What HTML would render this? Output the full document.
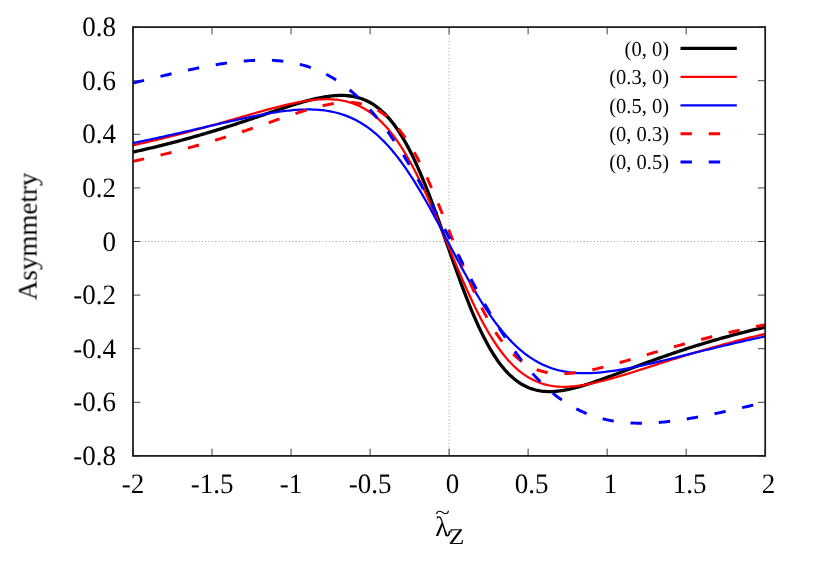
<!DOCTYPE html>
<html><head><meta charset="utf-8"><title>Asymmetry plot</title>
<style>html,body{margin:0;padding:0;background:#fff;}body{width:814px;height:570px;overflow:hidden;font-family:"Liberation Serif",serif;}svg{display:block;}text{text-rendering:geometricPrecision;font-family:"Liberation Serif",serif;fill:#000;}</style></head><body>
<svg width="814" height="570" viewBox="0 0 814 570">
<rect x="0" y="0" width="814" height="570" fill="#ffffff"/>
<g stroke="#000" stroke-width="0.7" stroke-dasharray="0.9 2.45" stroke-dashoffset="1.47" fill="none" opacity="0.62">
<path d="M133.00,241.50 H765.20"/>
<path d="M449.10,455.90 V27.10"/>
</g>
<g stroke="#000" stroke-width="0.75" fill="none">
<path d="M133.00,455.90 V448.60 M133.00,27.10 V34.40"/>
<path d="M212.03,455.90 V448.60 M212.03,27.10 V34.40"/>
<path d="M291.05,455.90 V448.60 M291.05,27.10 V34.40"/>
<path d="M370.08,455.90 V448.60 M370.08,27.10 V34.40"/>
<path d="M449.10,455.90 V448.60 M449.10,27.10 V34.40"/>
<path d="M528.12,455.90 V448.60 M528.12,27.10 V34.40"/>
<path d="M607.15,455.90 V448.60 M607.15,27.10 V34.40"/>
<path d="M686.18,455.90 V448.60 M686.18,27.10 V34.40"/>
<path d="M765.20,455.90 V448.60 M765.20,27.10 V34.40"/>
<path d="M133.00,455.90 H140.30 M765.20,455.90 H757.90"/>
<path d="M133.00,402.30 H140.30 M765.20,402.30 H757.90"/>
<path d="M133.00,348.70 H140.30 M765.20,348.70 H757.90"/>
<path d="M133.00,295.10 H140.30 M765.20,295.10 H757.90"/>
<path d="M133.00,241.50 H140.30 M765.20,241.50 H757.90"/>
<path d="M133.00,187.90 H140.30 M765.20,187.90 H757.90"/>
<path d="M133.00,134.30 H140.30 M765.20,134.30 H757.90"/>
<path d="M133.00,80.70 H140.30 M765.20,80.70 H757.90"/>
<path d="M133.00,27.10 H140.30 M765.20,27.10 H757.90"/>
</g>
<g fill="none" stroke-linejoin="round">
<path d="M133.00,152.05 L134.98,151.62 L136.95,151.18 L138.93,150.74 L140.90,150.29 L142.88,149.84 L144.85,149.38 L146.83,148.92 L148.81,148.46 L150.78,148.00 L152.76,147.53 L154.73,147.05 L156.71,146.57 L158.68,146.09 L160.66,145.60 L162.63,145.11 L164.61,144.62 L166.59,144.12 L168.56,143.62 L170.54,143.11 L172.51,142.60 L174.49,142.09 L176.46,141.57 L178.44,141.05 L180.42,140.52 L182.39,139.99 L184.37,139.45 L186.34,138.91 L188.32,138.37 L190.29,137.82 L192.27,137.27 L194.24,136.71 L196.22,136.15 L198.20,135.58 L200.17,135.01 L202.15,134.44 L204.12,133.86 L206.10,133.28 L208.07,132.69 L210.05,132.10 L212.03,131.51 L214.00,130.91 L215.98,130.31 L217.95,129.70 L219.93,129.09 L221.90,128.47 L223.88,127.86 L225.85,127.23 L227.83,126.61 L229.81,125.98 L231.78,125.34 L233.76,124.71 L235.73,124.07 L237.71,123.43 L239.68,122.78 L241.66,122.13 L243.63,121.48 L245.61,120.83 L247.59,120.17 L249.56,119.51 L251.54,118.85 L253.51,118.18 L255.49,117.51 L257.46,116.84 L259.44,116.17 L261.42,115.50 L263.39,114.82 L265.37,114.15 L267.34,113.48 L269.32,112.81 L271.29,112.13 L273.27,111.47 L275.25,110.80 L277.22,110.13 L279.20,109.47 L281.17,108.81 L283.15,108.16 L285.12,107.51 L287.10,106.87 L289.07,106.23 L291.05,105.60 L293.03,104.98 L295.00,104.36 L296.98,103.76 L298.95,103.16 L300.93,102.58 L302.90,102.01 L304.88,101.45 L306.86,100.91 L308.83,100.38 L310.81,99.87 L312.78,99.38 L314.76,98.91 L316.73,98.46 L318.71,98.03 L320.68,97.63 L322.66,97.25 L324.64,96.91 L326.61,96.59 L328.59,96.30 L330.56,96.05 L332.54,95.84 L334.51,95.67 L336.49,95.53 L338.47,95.45 L340.44,95.40 L342.42,95.41 L344.39,95.47 L346.37,95.59 L348.34,95.76 L350.32,96.00 L352.29,96.30 L354.27,96.67 L356.25,97.11 L358.22,97.62 L360.20,98.22 L362.17,98.90 L364.15,99.67 L366.12,100.52 L368.10,101.48 L370.08,102.53 L372.05,103.68 L374.03,104.95 L376.00,106.32 L377.98,107.81 L379.95,109.42 L381.93,111.15 L383.90,113.01 L385.88,115.00 L387.86,117.13 L389.83,119.39 L391.81,121.79 L393.78,124.34 L395.76,127.04 L397.73,129.88 L399.71,132.87 L401.69,136.02 L403.66,139.32 L405.64,142.77 L407.61,146.38 L409.59,150.14 L411.56,154.05 L413.54,158.11 L415.51,162.31 L417.49,166.66 L419.47,171.14 L421.44,175.76 L423.42,180.51 L425.39,185.38 L427.37,190.36 L429.34,195.45 L431.32,200.64 L433.30,205.91 L435.27,211.27 L437.25,216.69 L439.22,222.18 L441.20,227.71 L443.17,233.28 L445.15,238.87 L447.12,244.47 L449.10,250.07 L451.08,255.68 L453.05,261.25 L455.03,266.80 L457.00,272.29 L458.98,277.73 L460.95,283.09 L462.93,288.38 L464.91,293.58 L466.88,298.67 L468.86,303.66 L470.83,308.53 L472.81,313.28 L474.78,317.90 L476.76,322.38 L478.73,326.72 L480.71,330.92 L482.69,334.96 L484.66,338.86 L486.64,342.60 L488.61,346.18 L490.59,349.61 L492.56,352.88 L494.54,356.00 L496.51,358.96 L498.49,361.76 L500.47,364.42 L502.44,366.93 L504.42,369.29 L506.39,371.51 L508.37,373.59 L510.34,375.53 L512.32,377.33 L514.30,379.01 L516.27,380.56 L518.25,381.98 L520.22,383.29 L522.20,384.49 L524.17,385.57 L526.15,386.55 L528.12,387.43 L530.10,388.21 L532.08,388.90 L534.05,389.50 L536.03,390.02 L538.00,390.45 L539.98,390.81 L541.95,391.10 L543.93,391.31 L545.91,391.47 L547.88,391.56 L549.86,391.59 L551.83,391.56 L553.81,391.48 L555.78,391.35 L557.76,391.15 L559.74,390.91 L561.71,390.63 L563.69,390.31 L565.66,389.95 L567.64,389.56 L569.61,389.14 L571.59,388.69 L573.56,388.21 L575.54,387.71 L577.52,387.18 L579.49,386.63 L581.47,386.06 L583.44,385.47 L585.42,384.86 L587.39,384.24 L589.37,383.60 L591.35,382.95 L593.32,382.29 L595.30,381.61 L597.27,380.93 L599.25,380.23 L601.22,379.53 L603.20,378.82 L605.17,378.11 L607.15,377.39 L609.13,376.66 L611.10,375.93 L613.08,375.20 L615.05,374.46 L617.03,373.72 L619.00,372.98 L620.98,372.24 L622.96,371.49 L624.93,370.75 L626.91,370.00 L628.88,369.26 L630.86,368.52 L632.83,367.78 L634.81,367.04 L636.78,366.30 L638.76,365.56 L640.74,364.83 L642.71,364.10 L644.69,363.37 L646.66,362.65 L648.64,361.92 L650.61,361.20 L652.59,360.49 L654.57,359.77 L656.54,359.06 L658.52,358.36 L660.49,357.65 L662.47,356.96 L664.44,356.26 L666.42,355.57 L668.39,354.89 L670.37,354.21 L672.35,353.53 L674.32,352.86 L676.30,352.20 L678.27,351.53 L680.25,350.88 L682.22,350.22 L684.20,349.58 L686.18,348.93 L688.15,348.30 L690.13,347.66 L692.10,347.03 L694.08,346.41 L696.05,345.79 L698.03,345.18 L700.00,344.57 L701.98,343.97 L703.96,343.37 L705.93,342.77 L707.91,342.19 L709.88,341.60 L711.86,341.02 L713.83,340.45 L715.81,339.88 L717.79,339.31 L719.76,338.75 L721.74,338.20 L723.71,337.64 L725.69,337.10 L727.66,336.56 L729.64,336.02 L731.61,335.49 L733.59,334.96 L735.57,334.43 L737.54,333.92 L739.52,333.40 L741.49,332.89 L743.47,332.39 L745.44,331.89 L747.42,331.40 L749.39,330.91 L751.37,330.43 L753.35,329.95 L755.32,329.47 L757.30,329.00 L759.27,328.53 L761.25,328.07 L763.22,327.61 L765.20,327.15" stroke="#000000" stroke-width="3.3"/>
<path d="M133.00,145.25 L134.98,144.81 L136.95,144.37 L138.93,143.93 L140.90,143.49 L142.88,143.04 L144.85,142.58 L146.83,142.13 L148.81,141.67 L150.78,141.21 L152.76,140.74 L154.73,140.28 L156.71,139.80 L158.68,139.33 L160.66,138.85 L162.63,138.37 L164.61,137.89 L166.59,137.40 L168.56,136.91 L170.54,136.42 L172.51,135.92 L174.49,135.42 L176.46,134.92 L178.44,134.41 L180.42,133.90 L182.39,133.39 L184.37,132.88 L186.34,132.36 L188.32,131.84 L190.29,131.32 L192.27,130.79 L194.24,130.26 L196.22,129.73 L198.20,129.19 L200.17,128.66 L202.15,128.12 L204.12,127.57 L206.10,127.03 L208.07,126.48 L210.05,125.93 L212.03,125.38 L214.00,124.83 L215.98,124.27 L217.95,123.72 L219.93,123.16 L221.90,122.60 L223.88,122.03 L225.85,121.47 L227.83,120.91 L229.81,120.34 L231.78,119.77 L233.76,119.21 L235.73,118.64 L237.71,118.07 L239.68,117.50 L241.66,116.94 L243.63,116.37 L245.61,115.80 L247.59,115.24 L249.56,114.67 L251.54,114.11 L253.51,113.54 L255.49,112.97 L257.46,112.41 L259.44,111.85 L261.42,111.30 L263.39,110.75 L265.37,110.20 L267.34,109.66 L269.32,109.12 L271.29,108.59 L273.27,108.06 L275.25,107.55 L277.22,107.04 L279.20,106.53 L281.17,106.04 L283.15,105.55 L285.12,105.08 L287.10,104.62 L289.07,104.16 L291.05,103.73 L293.03,103.30 L295.00,102.89 L296.98,102.49 L298.95,102.11 L300.93,101.75 L302.90,101.41 L304.88,101.08 L306.86,100.78 L308.83,100.50 L310.81,100.24 L312.78,100.01 L314.76,99.80 L316.73,99.63 L318.71,99.48 L320.68,99.36 L322.66,99.27 L324.64,99.22 L326.61,99.20 L328.59,99.23 L330.56,99.29 L332.54,99.39 L334.51,99.54 L336.49,99.73 L338.47,99.97 L340.44,100.26 L342.42,100.61 L344.39,101.01 L346.37,101.46 L348.34,101.98 L350.32,102.56 L352.29,103.20 L354.27,103.91 L356.25,104.69 L358.22,105.54 L360.20,106.47 L362.17,107.47 L364.15,108.56 L366.12,109.73 L368.10,110.98 L370.08,112.33 L372.05,113.76 L374.03,115.29 L376.00,116.92 L377.98,118.64 L379.95,120.46 L381.93,122.39 L383.90,124.42 L385.88,126.56 L387.86,128.81 L389.83,131.16 L391.81,133.63 L393.78,136.21 L395.76,138.90 L397.73,141.71 L399.71,144.63 L401.69,147.67 L403.66,150.82 L405.64,154.09 L407.61,157.46 L409.59,160.95 L411.56,164.54 L413.54,168.24 L415.51,172.04 L417.49,175.94 L419.47,179.94 L421.44,184.03 L423.42,188.21 L425.39,192.47 L427.37,196.81 L429.34,201.23 L431.32,205.71 L433.30,210.25 L435.27,214.84 L437.25,219.48 L439.22,224.16 L441.20,228.87 L443.17,233.60 L445.15,238.36 L447.12,243.12 L449.10,247.88 L451.08,252.65 L453.05,257.40 L455.03,262.13 L457.00,266.83 L458.98,271.50 L460.95,276.12 L462.93,280.68 L464.91,285.19 L466.88,289.63 L468.86,294.01 L470.83,298.30 L472.81,302.51 L474.78,306.64 L476.76,310.67 L478.73,314.60 L480.71,318.44 L482.69,322.17 L484.66,325.79 L486.64,329.30 L488.61,332.70 L490.59,335.99 L492.56,339.16 L494.54,342.22 L496.51,345.16 L498.49,347.98 L500.47,350.69 L502.44,353.29 L504.42,355.78 L506.39,358.15 L508.37,360.41 L510.34,362.55 L512.32,364.59 L514.30,366.52 L516.27,368.34 L518.25,370.05 L520.22,371.67 L522.20,373.19 L524.17,374.61 L526.15,375.93 L528.12,377.17 L530.10,378.31 L532.08,379.37 L534.05,380.35 L536.03,381.25 L538.00,382.07 L539.98,382.81 L541.95,383.48 L543.93,384.09 L545.91,384.62 L547.88,385.10 L549.86,385.51 L551.83,385.86 L553.81,386.16 L555.78,386.39 L557.76,386.56 L559.74,386.68 L561.71,386.75 L563.69,386.78 L565.66,386.76 L567.64,386.71 L569.61,386.61 L571.59,386.48 L573.56,386.32 L575.54,386.12 L577.52,385.89 L579.49,385.64 L581.47,385.35 L583.44,385.04 L585.42,384.70 L587.39,384.34 L589.37,383.96 L591.35,383.56 L593.32,383.14 L595.30,382.69 L597.27,382.24 L599.25,381.76 L601.22,381.28 L603.20,380.77 L605.17,380.26 L607.15,379.73 L609.13,379.19 L611.10,378.65 L613.08,378.09 L615.05,377.52 L617.03,376.94 L619.00,376.36 L620.98,375.77 L622.96,375.18 L624.93,374.58 L626.91,373.97 L628.88,373.36 L630.86,372.75 L632.83,372.13 L634.81,371.51 L636.78,370.88 L638.76,370.26 L640.74,369.63 L642.71,369.00 L644.69,368.37 L646.66,367.74 L648.64,367.10 L650.61,366.47 L652.59,365.84 L654.57,365.20 L656.54,364.57 L658.52,363.94 L660.49,363.30 L662.47,362.67 L664.44,362.04 L666.42,361.42 L668.39,360.79 L670.37,360.17 L672.35,359.54 L674.32,358.92 L676.30,358.31 L678.27,357.69 L680.25,357.08 L682.22,356.47 L684.20,355.86 L686.18,355.25 L688.15,354.65 L690.13,354.05 L692.10,353.46 L694.08,352.86 L696.05,352.28 L698.03,351.69 L700.00,351.11 L701.98,350.53 L703.96,349.95 L705.93,349.38 L707.91,348.81 L709.88,348.24 L711.86,347.68 L713.83,347.12 L715.81,346.56 L717.79,346.01 L719.76,345.46 L721.74,344.92 L723.71,344.38 L725.69,343.84 L727.66,343.31 L729.64,342.78 L731.61,342.25 L733.59,341.73 L735.57,341.21 L737.54,340.69 L739.52,340.18 L741.49,339.67 L743.47,339.17 L745.44,338.68 L747.42,338.18 L749.39,337.69 L751.37,337.21 L753.35,336.73 L755.32,336.25 L757.30,335.78 L759.27,335.30 L761.25,334.84 L763.22,334.37 L765.20,333.91" stroke="#ff0000" stroke-width="2.25"/>
<path d="M133.00,143.08 L134.98,142.67 L136.95,142.26 L138.93,141.85 L140.90,141.44 L142.88,141.02 L144.85,140.61 L146.83,140.19 L148.81,139.77 L150.78,139.34 L152.76,138.92 L154.73,138.49 L156.71,138.06 L158.68,137.63 L160.66,137.20 L162.63,136.77 L164.61,136.33 L166.59,135.89 L168.56,135.45 L170.54,135.01 L172.51,134.57 L174.49,134.12 L176.46,133.68 L178.44,133.23 L180.42,132.78 L182.39,132.33 L184.37,131.88 L186.34,131.43 L188.32,130.98 L190.29,130.52 L192.27,130.07 L194.24,129.61 L196.22,129.15 L198.20,128.70 L200.17,128.24 L202.15,127.78 L204.12,127.32 L206.10,126.87 L208.07,126.41 L210.05,125.95 L212.03,125.49 L214.00,125.03 L215.98,124.58 L217.95,124.12 L219.93,123.67 L221.90,123.21 L223.88,122.76 L225.85,122.31 L227.83,121.86 L229.81,121.42 L231.78,120.97 L233.76,120.53 L235.73,120.09 L237.71,119.66 L239.68,119.22 L241.66,118.79 L243.63,118.37 L245.61,117.95 L247.59,117.53 L249.56,117.12 L251.54,116.71 L253.51,116.31 L255.49,115.91 L257.46,115.51 L259.44,115.13 L261.42,114.75 L263.39,114.38 L265.37,114.01 L267.34,113.66 L269.32,113.32 L271.29,112.98 L273.27,112.66 L275.25,112.35 L277.22,112.05 L279.20,111.76 L281.17,111.49 L283.15,111.23 L285.12,110.98 L287.10,110.75 L289.07,110.53 L291.05,110.34 L293.03,110.16 L295.00,109.99 L296.98,109.85 L298.95,109.73 L300.93,109.63 L302.90,109.55 L304.88,109.50 L306.86,109.47 L308.83,109.46 L310.81,109.48 L312.78,109.53 L314.76,109.61 L316.73,109.72 L318.71,109.86 L320.68,110.03 L322.66,110.24 L324.64,110.48 L326.61,110.76 L328.59,111.08 L330.56,111.43 L332.54,111.83 L334.51,112.27 L336.49,112.75 L338.47,113.28 L340.44,113.86 L342.42,114.48 L344.39,115.15 L346.37,115.88 L348.34,116.65 L350.32,117.49 L352.29,118.38 L354.27,119.32 L356.25,120.33 L358.22,121.39 L360.20,122.52 L362.17,123.72 L364.15,124.97 L366.12,126.30 L368.10,127.69 L370.08,129.15 L372.05,130.68 L374.03,132.29 L376.00,133.96 L377.98,135.71 L379.95,137.54 L381.93,139.44 L383.90,141.41 L385.88,143.46 L387.86,145.59 L389.83,147.80 L391.81,150.08 L393.78,152.45 L395.76,154.88 L397.73,157.40 L399.71,159.99 L401.69,162.66 L403.66,165.40 L405.64,168.22 L407.61,171.11 L409.59,174.07 L411.56,177.09 L413.54,180.19 L415.51,183.35 L417.49,186.57 L419.47,189.85 L421.44,193.19 L423.42,196.58 L425.39,200.02 L427.37,203.51 L429.34,207.05 L431.32,210.62 L433.30,214.23 L435.27,217.87 L437.25,221.54 L439.22,225.24 L441.20,228.95 L443.17,232.68 L445.15,236.42 L447.12,240.16 L449.10,243.91 L451.08,247.67 L453.05,251.42 L455.03,255.15 L457.00,258.87 L458.98,262.57 L460.95,266.24 L462.93,269.89 L464.91,273.50 L466.88,277.07 L468.86,280.60 L470.83,284.09 L472.81,287.53 L474.78,290.91 L476.76,294.24 L478.73,297.52 L480.71,300.73 L482.69,303.88 L484.66,306.96 L486.64,309.97 L488.61,312.92 L490.59,315.79 L492.56,318.59 L494.54,321.32 L496.51,323.96 L498.49,326.54 L500.47,329.04 L502.44,331.46 L504.42,333.81 L506.39,336.08 L508.37,338.27 L510.34,340.39 L512.32,342.43 L514.30,344.38 L516.27,346.27 L518.25,348.07 L520.22,349.81 L522.20,351.46 L524.17,353.05 L526.15,354.56 L528.12,356.00 L530.10,357.37 L532.08,358.67 L534.05,359.91 L536.03,361.08 L538.00,362.19 L539.98,363.23 L541.95,364.21 L543.93,365.14 L545.91,366.00 L547.88,366.81 L549.86,367.57 L551.83,368.27 L553.81,368.92 L555.78,369.51 L557.76,370.04 L559.74,370.52 L561.71,370.96 L563.69,371.35 L565.66,371.70 L567.64,372.01 L569.61,372.29 L571.59,372.52 L573.56,372.72 L575.54,372.88 L577.52,373.01 L579.49,373.10 L581.47,373.17 L583.44,373.20 L585.42,373.21 L587.39,373.19 L589.37,373.14 L591.35,373.07 L593.32,372.97 L595.30,372.85 L597.27,372.71 L599.25,372.55 L601.22,372.37 L603.20,372.16 L605.17,371.94 L607.15,371.71 L609.13,371.45 L611.10,371.19 L613.08,370.90 L615.05,370.60 L617.03,370.29 L619.00,369.97 L620.98,369.63 L622.96,369.28 L624.93,368.92 L626.91,368.56 L628.88,368.18 L630.86,367.79 L632.83,367.39 L634.81,366.99 L636.78,366.58 L638.76,366.16 L640.74,365.74 L642.71,365.31 L644.69,364.87 L646.66,364.43 L648.64,363.98 L650.61,363.53 L652.59,363.07 L654.57,362.61 L656.54,362.14 L658.52,361.67 L660.49,361.20 L662.47,360.72 L664.44,360.25 L666.42,359.77 L668.39,359.29 L670.37,358.80 L672.35,358.32 L674.32,357.83 L676.30,357.35 L678.27,356.86 L680.25,356.37 L682.22,355.88 L684.20,355.39 L686.18,354.90 L688.15,354.41 L690.13,353.92 L692.10,353.43 L694.08,352.95 L696.05,352.46 L698.03,351.97 L700.00,351.48 L701.98,351.00 L703.96,350.51 L705.93,350.03 L707.91,349.55 L709.88,349.06 L711.86,348.58 L713.83,348.11 L715.81,347.63 L717.79,347.15 L719.76,346.68 L721.74,346.21 L723.71,345.74 L725.69,345.27 L727.66,344.80 L729.64,344.33 L731.61,343.87 L733.59,343.41 L735.57,342.95 L737.54,342.49 L739.52,342.04 L741.49,341.58 L743.47,341.14 L745.44,340.69 L747.42,340.25 L749.39,339.81 L751.37,339.38 L753.35,338.94 L755.32,338.51 L757.30,338.08 L759.27,337.65 L761.25,337.23 L763.22,336.80 L765.20,336.38" stroke="#0000ff" stroke-width="2.25"/>
<path d="M133.00,161.33 L134.98,160.91 L136.95,160.48 L138.93,160.05 L140.90,159.61 L142.88,159.17 L144.85,158.73 L146.83,158.28 L148.81,157.83 L150.78,157.38 L152.76,156.92 L154.73,156.46 L156.71,155.99 L158.68,155.52 L160.66,155.05 L162.63,154.57 L164.61,154.08 L166.59,153.60 L168.56,153.11 L170.54,152.61 L172.51,152.11 L174.49,151.61 L176.46,151.10 L178.44,150.59 L180.42,150.07 L182.39,149.55 L184.37,149.03 L186.34,148.50 L188.32,147.96 L190.29,147.42 L192.27,146.88 L194.24,146.33 L196.22,145.78 L198.20,145.22 L200.17,144.66 L202.15,144.10 L204.12,143.53 L206.10,142.95 L208.07,142.38 L210.05,141.79 L212.03,141.21 L214.00,140.61 L215.98,140.02 L217.95,139.42 L219.93,138.81 L221.90,138.20 L223.88,137.59 L225.85,136.97 L227.83,136.35 L229.81,135.73 L231.78,135.10 L233.76,134.46 L235.73,133.82 L237.71,133.18 L239.68,132.54 L241.66,131.89 L243.63,131.24 L245.61,130.58 L247.59,129.93 L249.56,129.26 L251.54,128.60 L253.51,127.92 L255.49,127.25 L257.46,126.57 L259.44,125.89 L261.42,125.21 L263.39,124.53 L265.37,123.85 L267.34,123.16 L269.32,122.48 L271.29,121.79 L273.27,121.10 L275.25,120.42 L277.22,119.73 L279.20,119.05 L281.17,118.37 L283.15,117.69 L285.12,117.02 L287.10,116.34 L289.07,115.67 L291.05,115.01 L293.03,114.35 L295.00,113.70 L296.98,113.05 L298.95,112.41 L300.93,111.78 L302.90,111.16 L304.88,110.55 L306.86,109.95 L308.83,109.36 L310.81,108.79 L312.78,108.23 L314.76,107.69 L316.73,107.16 L318.71,106.65 L320.68,106.17 L322.66,105.70 L324.64,105.26 L326.61,104.84 L328.59,104.45 L330.56,104.08 L332.54,103.75 L334.51,103.45 L336.49,103.18 L338.47,102.95 L340.44,102.76 L342.42,102.61 L344.39,102.51 L346.37,102.45 L348.34,102.44 L350.32,102.48 L352.29,102.58 L354.27,102.74 L356.25,102.96 L358.22,103.24 L360.20,103.59 L362.17,104.01 L364.15,104.50 L366.12,105.08 L368.10,105.73 L370.08,106.47 L372.05,107.30 L374.03,108.22 L376.00,109.24 L377.98,110.36 L379.95,111.58 L381.93,112.91 L383.90,114.35 L385.88,115.90 L387.86,117.57 L389.83,119.36 L391.81,121.28 L393.78,123.32 L395.76,125.49 L397.73,127.80 L399.71,130.23 L401.69,132.80 L403.66,135.51 L405.64,138.36 L407.61,141.35 L409.59,144.47 L411.56,147.73 L413.54,151.12 L415.51,154.65 L417.49,158.32 L419.47,162.11 L421.44,166.03 L423.42,170.07 L425.39,174.22 L427.37,178.49 L429.34,182.87 L431.32,187.34 L433.30,191.91 L435.27,196.56 L437.25,201.29 L439.22,206.09 L441.20,210.95 L443.17,215.85 L445.15,220.80 L447.12,225.77 L449.10,230.77 L451.08,235.79 L453.05,240.81 L455.03,245.81 L457.00,250.80 L458.98,255.75 L460.95,260.67 L462.93,265.53 L464.91,270.33 L466.88,275.07 L468.86,279.73 L470.83,284.31 L472.81,288.79 L474.78,293.18 L476.76,297.46 L478.73,301.63 L480.71,305.69 L482.69,309.63 L484.66,313.45 L486.64,317.14 L488.61,320.70 L490.59,324.14 L492.56,327.44 L494.54,330.61 L496.51,333.65 L498.49,336.55 L500.47,339.33 L502.44,341.98 L504.42,344.50 L506.39,346.90 L508.37,349.17 L510.34,351.31 L512.32,353.34 L514.30,355.24 L516.27,357.03 L518.25,358.71 L520.22,360.28 L522.20,361.74 L524.17,363.10 L526.15,364.36 L528.12,365.52 L530.10,366.59 L532.08,367.58 L534.05,368.47 L536.03,369.29 L538.00,370.02 L539.98,370.68 L541.95,371.27 L543.93,371.79 L545.91,372.24 L547.88,372.63 L549.86,372.96 L551.83,373.24 L553.81,373.45 L555.78,373.61 L557.76,373.71 L559.74,373.76 L561.71,373.76 L563.69,373.72 L565.66,373.65 L567.64,373.53 L569.61,373.39 L571.59,373.20 L573.56,372.99 L575.54,372.75 L577.52,372.48 L579.49,372.19 L581.47,371.87 L583.44,371.52 L585.42,371.16 L587.39,370.78 L589.37,370.38 L591.35,369.96 L593.32,369.52 L595.30,369.07 L597.27,368.61 L599.25,368.13 L601.22,367.65 L603.20,367.15 L605.17,366.64 L607.15,366.12 L609.13,365.59 L611.10,365.06 L613.08,364.52 L615.05,363.97 L617.03,363.42 L619.00,362.86 L620.98,362.29 L622.96,361.73 L624.93,361.16 L626.91,360.58 L628.88,360.01 L630.86,359.43 L632.83,358.85 L634.81,358.27 L636.78,357.69 L638.76,357.10 L640.74,356.52 L642.71,355.94 L644.69,355.36 L646.66,354.77 L648.64,354.19 L650.61,353.61 L652.59,353.03 L654.57,352.45 L656.54,351.87 L658.52,351.29 L660.49,350.71 L662.47,350.14 L664.44,349.57 L666.42,349.00 L668.39,348.43 L670.37,347.87 L672.35,347.31 L674.32,346.75 L676.30,346.19 L678.27,345.64 L680.25,345.09 L682.22,344.54 L684.20,344.00 L686.18,343.46 L688.15,342.92 L690.13,342.38 L692.10,341.85 L694.08,341.33 L696.05,340.80 L698.03,340.28 L700.00,339.76 L701.98,339.25 L703.96,338.74 L705.93,338.23 L707.91,337.73 L709.88,337.23 L711.86,336.73 L713.83,336.24 L715.81,335.75 L717.79,335.26 L719.76,334.78 L721.74,334.30 L723.71,333.82 L725.69,333.35 L727.66,332.88 L729.64,332.42 L731.61,331.96 L733.59,331.50 L735.57,331.05 L737.54,330.60 L739.52,330.15 L741.49,329.70 L743.47,329.27 L745.44,328.84 L747.42,328.41 L749.39,327.98 L751.37,327.56 L753.35,327.14 L755.32,326.73 L757.30,326.31 L759.27,325.91 L761.25,325.50 L763.22,325.10 L765.20,324.70" stroke="#ff0000" stroke-width="2.95" stroke-dasharray="11.4 16.85"/>
<path d="M133.00,83.04 L134.98,82.56 L136.95,82.08 L138.93,81.60 L140.90,81.11 L142.88,80.63 L144.85,80.15 L146.83,79.67 L148.81,79.19 L150.78,78.72 L152.76,78.24 L154.73,77.77 L156.71,77.29 L158.68,76.82 L160.66,76.35 L162.63,75.88 L164.61,75.42 L166.59,74.96 L168.56,74.50 L170.54,74.04 L172.51,73.58 L174.49,73.13 L176.46,72.68 L178.44,72.24 L180.42,71.79 L182.39,71.36 L184.37,70.92 L186.34,70.49 L188.32,70.06 L190.29,69.64 L192.27,69.23 L194.24,68.82 L196.22,68.41 L198.20,68.01 L200.17,67.62 L202.15,67.23 L204.12,66.85 L206.10,66.47 L208.07,66.10 L210.05,65.74 L212.03,65.39 L214.00,65.04 L215.98,64.71 L217.95,64.38 L219.93,64.06 L221.90,63.75 L223.88,63.45 L225.85,63.16 L227.83,62.88 L229.81,62.62 L231.78,62.36 L233.76,62.11 L235.73,61.88 L237.71,61.66 L239.68,61.45 L241.66,61.26 L243.63,61.08 L245.61,60.92 L247.59,60.77 L249.56,60.64 L251.54,60.52 L253.51,60.41 L255.49,60.32 L257.46,60.25 L259.44,60.20 L261.42,60.16 L263.39,60.15 L265.37,60.16 L267.34,60.19 L269.32,60.24 L271.29,60.31 L273.27,60.40 L275.25,60.52 L277.22,60.67 L279.20,60.84 L281.17,61.03 L283.15,61.25 L285.12,61.50 L287.10,61.78 L289.07,62.08 L291.05,62.42 L293.03,62.79 L295.00,63.18 L296.98,63.61 L298.95,64.08 L300.93,64.57 L302.90,65.10 L304.88,65.67 L306.86,66.27 L308.83,66.91 L310.81,67.59 L312.78,68.31 L314.76,69.07 L316.73,69.87 L318.71,70.71 L320.68,71.59 L322.66,72.52 L324.64,73.49 L326.61,74.50 L328.59,75.56 L330.56,76.67 L332.54,77.82 L334.51,79.03 L336.49,80.28 L338.47,81.58 L340.44,82.94 L342.42,84.34 L344.39,85.80 L346.37,87.31 L348.34,88.87 L350.32,90.49 L352.29,92.16 L354.27,93.88 L356.25,95.67 L358.22,97.50 L360.20,99.40 L362.17,101.35 L364.15,103.36 L366.12,105.43 L368.10,107.55 L370.08,109.73 L372.05,111.97 L374.03,114.27 L376.00,116.63 L377.98,119.04 L379.95,121.51 L381.93,124.04 L383.90,126.63 L385.88,129.28 L387.86,131.98 L389.83,134.73 L391.81,137.54 L393.78,140.41 L395.76,143.33 L397.73,146.30 L399.71,149.33 L401.69,152.40 L403.66,155.53 L405.64,158.71 L407.61,161.93 L409.59,165.20 L411.56,168.51 L413.54,171.87 L415.51,175.26 L417.49,178.70 L419.47,182.18 L421.44,185.69 L423.42,189.23 L425.39,192.81 L427.37,196.42 L429.34,200.05 L431.32,203.71 L433.30,207.40 L435.27,211.11 L437.25,214.83 L439.22,218.57 L441.20,222.33 L443.17,226.10 L445.15,229.87 L447.12,233.66 L449.10,237.45 L451.08,241.25 L453.05,245.05 L455.03,248.85 L457.00,252.64 L458.98,256.43 L460.95,260.21 L462.93,263.97 L464.91,267.72 L466.88,271.45 L468.86,275.16 L470.83,278.84 L472.81,282.51 L474.78,286.15 L476.76,289.75 L478.73,293.33 L480.71,296.88 L482.69,300.39 L484.66,303.86 L486.64,307.30 L488.61,310.69 L490.59,314.05 L492.56,317.36 L494.54,320.62 L496.51,323.84 L498.49,327.01 L500.47,330.14 L502.44,333.22 L504.42,336.25 L506.39,339.23 L508.37,342.16 L510.34,345.03 L512.32,347.85 L514.30,350.61 L516.27,353.32 L518.25,355.97 L520.22,358.57 L522.20,361.11 L524.17,363.59 L526.15,366.02 L528.12,368.38 L530.10,370.69 L532.08,372.94 L534.05,375.14 L536.03,377.28 L538.00,379.36 L539.98,381.38 L541.95,383.35 L543.93,385.26 L545.91,387.11 L547.88,388.91 L549.86,390.65 L551.83,392.34 L553.81,393.98 L555.78,395.55 L557.76,397.06 L559.74,398.52 L561.71,399.92 L563.69,401.27 L565.66,402.58 L567.64,403.83 L569.61,405.04 L571.59,406.20 L573.56,407.31 L575.54,408.37 L577.52,409.39 L579.49,410.37 L581.47,411.30 L583.44,412.19 L585.42,413.04 L587.39,413.85 L589.37,414.62 L591.35,415.34 L593.32,416.03 L595.30,416.69 L597.27,417.30 L599.25,417.88 L601.22,418.43 L603.20,418.94 L605.17,419.41 L607.15,419.86 L609.13,420.27 L611.10,420.65 L613.08,421.01 L615.05,421.33 L617.03,421.62 L619.00,421.89 L620.98,422.13 L622.96,422.34 L624.93,422.53 L626.91,422.70 L628.88,422.83 L630.86,422.95 L632.83,423.04 L634.81,423.11 L636.78,423.16 L638.76,423.19 L640.74,423.20 L642.71,423.19 L644.69,423.16 L646.66,423.11 L648.64,423.04 L650.61,422.96 L652.59,422.86 L654.57,422.74 L656.54,422.61 L658.52,422.46 L660.49,422.29 L662.47,422.12 L664.44,421.92 L666.42,421.72 L668.39,421.50 L670.37,421.27 L672.35,421.03 L674.32,420.78 L676.30,420.52 L678.27,420.24 L680.25,419.96 L682.22,419.66 L684.20,419.36 L686.18,419.05 L688.15,418.73 L690.13,418.40 L692.10,418.06 L694.08,417.72 L696.05,417.36 L698.03,417.00 L700.00,416.64 L701.98,416.27 L703.96,415.89 L705.93,415.50 L707.91,415.11 L709.88,414.71 L711.86,414.31 L713.83,413.91 L715.81,413.49 L717.79,413.08 L719.76,412.66 L721.74,412.24 L723.71,411.81 L725.69,411.38 L727.66,410.94 L729.64,410.50 L731.61,410.06 L733.59,409.62 L735.57,409.17 L737.54,408.72 L739.52,408.27 L741.49,407.81 L743.47,407.36 L745.44,406.91 L747.42,406.45 L749.39,406.00 L751.37,405.54 L753.35,405.08 L755.32,404.62 L757.30,404.16 L759.27,403.69 L761.25,403.23 L763.22,402.76 L765.20,402.30" stroke="#0000ff" stroke-width="2.95" stroke-dasharray="11.4 16.85"/>
</g>
<rect x="133.00" y="27.10" width="632.20" height="428.80" fill="none" stroke="#1c1c1c" stroke-width="1.75"/>
<g opacity="0.99">
<g font-size="27" text-anchor="end">
<text transform="translate(115.9,464.90) scale(1,1.04)">-0.8</text>
<text transform="translate(115.9,411.30) scale(1,1.04)">-0.6</text>
<text transform="translate(115.9,357.70) scale(1,1.04)">-0.4</text>
<text transform="translate(115.9,304.10) scale(1,1.04)">-0.2</text>
<text transform="translate(115.9,250.50) scale(1,1.04)">0</text>
<text transform="translate(115.9,196.90) scale(1,1.04)">0.2</text>
<text transform="translate(115.9,143.30) scale(1,1.04)">0.4</text>
<text transform="translate(115.9,89.70) scale(1,1.04)">0.6</text>
<text transform="translate(115.9,36.10) scale(1,1.04)">0.8</text>
</g>
<g font-size="27" text-anchor="middle">
<text transform="translate(133.00,492.6) scale(1,1.04)">-2</text>
<text transform="translate(212.03,492.6) scale(1,1.04)">-1.5</text>
<text transform="translate(291.05,492.6) scale(1,1.04)">-1</text>
<text transform="translate(370.08,492.6) scale(1,1.04)">-0.5</text>
<text transform="translate(452.50,492.6) scale(1,1.04)">0</text>
<text transform="translate(531.52,492.6) scale(1,1.04)">0.5</text>
<text transform="translate(610.55,492.6) scale(1,1.04)">1</text>
<text transform="translate(689.58,492.6) scale(1,1.04)">1.5</text>
<text transform="translate(768.60,492.6) scale(1,1.04)">2</text>
</g>
<text font-size="27" text-anchor="middle" transform="translate(36.6,236.4) rotate(-90)">Asymmetry</text>
<text font-size="27" transform="translate(435.2,535.6) scale(1,1.04)">λ</text>
<text font-size="27" transform="translate(435.3,519.15) scale(1,0.74)">~</text>
<path d="M445.3,531.2 C445.9,534.6 446.6,536.0 447.7,535.7 C448.8,535.4 449.3,533.6 449.5,531.6" fill="none" stroke="#000" stroke-width="1.5" stroke-linecap="round"/>
<text font-size="21.60" transform="translate(448.6,544) scale(1.2,1.04)">Z</text>
<g font-size="20.52" text-anchor="end">
<text transform="translate(669.0,55.85) scale(1,1.04)">(0, 0)</text>
<text transform="translate(669.0,84.25) scale(1,1.04)">(0.3, 0)</text>
<text transform="translate(669.0,112.65) scale(1,1.04)">(0.5, 0)</text>
<text transform="translate(669.0,141.05) scale(1,1.04)">(0, 0.3)</text>
<text transform="translate(669.0,169.45) scale(1,1.04)">(0, 0.5)</text>
</g>
</g>
<path d="M680.5,48.45 H736.8" stroke="#000" stroke-width="3.3" fill="none"/>
<path d="M680.5,76.85 H736.8" stroke="#ff0000" stroke-width="2.25" fill="none"/>
<path d="M680.5,105.25 H736.8" stroke="#0000ff" stroke-width="2.25" fill="none"/>
<path d="M680.5,133.65 H736.8" stroke="#ff0000" stroke-width="2.95" fill="none" stroke-dasharray="11.4 16.85"/>
<path d="M680.5,162.05 H736.8" stroke="#0000ff" stroke-width="2.95" fill="none" stroke-dasharray="11.4 16.85"/>
</svg></body></html>
